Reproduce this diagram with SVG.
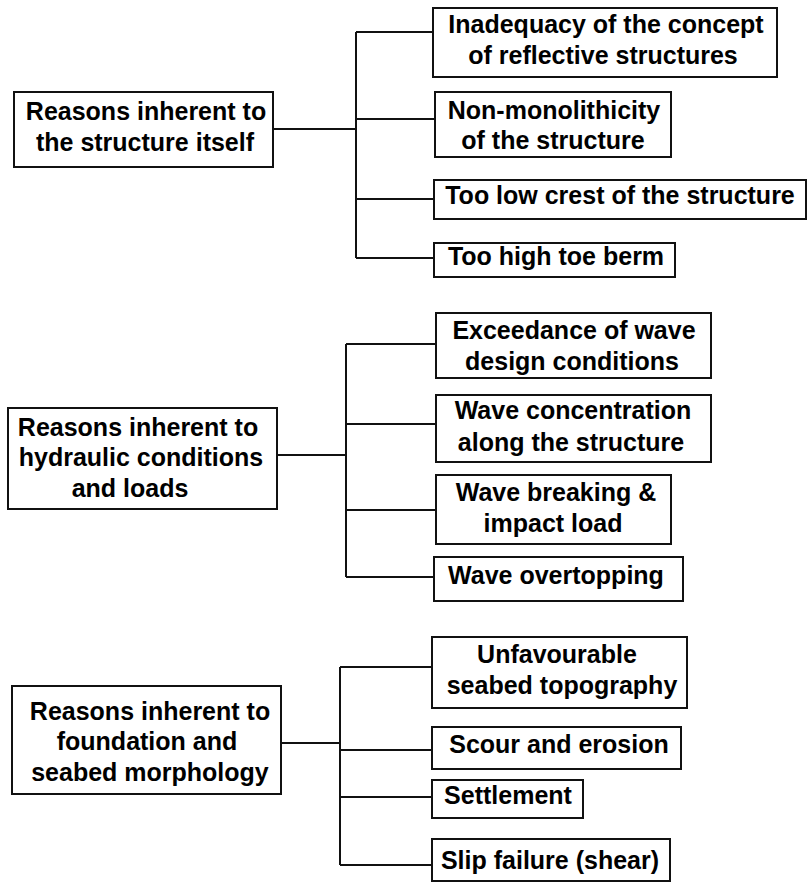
<svg xmlns="http://www.w3.org/2000/svg" width="808" height="882" viewBox="0 0 808 882">
<style>
.box{fill:#fff;stroke:#111;stroke-width:2}
.t{font-family:"Liberation Sans",Arial,sans-serif;font-weight:bold;font-size:25px;fill:#000;text-anchor:middle}
.c{fill:none;stroke:#111;stroke-width:2}
</style>
<rect width="808" height="882" fill="#fff"/>
<g id="connectors">
<path class="c" d="M273 129H356M356 32V258M356 32H433M356 119H435M356 199H434M356 258H434"/>
<path class="c" d="M277 455H346M346 344V577M346 344H436M346 424H436M346 510H436M346 577H434"/>
<path class="c" d="M281 743H340M340 667V865M340 667H432M340 750H432M340 797H432M340 865H432"/>
</g>
<g id="n1"><rect class="box" x="14" y="92" width="259" height="75"/>
<text class="t"><tspan x="146" y="120">Reasons inherent to</tspan><tspan x="145" y="151">the structure itself</tspan></text></g>
<g id="n1a"><rect class="box" x="433" y="8" width="344" height="69"/>
<text class="t"><tspan x="606" y="33">Inadequacy of the concept</tspan><tspan x="603" y="64">of reflective structures</tspan></text></g>
<g id="n1b"><rect class="box" x="435" y="92" width="236" height="65"/>
<text class="t"><tspan x="554" y="119">Non-monolithicity</tspan><tspan x="553" y="149">of the structure</tspan></text></g>
<g id="n1c"><rect class="box" x="434" y="180" width="372" height="39"/>
<text class="t" x="620" y="204">Too low crest of the structure</text></g>
<g id="n1d"><rect class="box" x="434" y="243" width="241" height="34"/>
<text class="t" x="556" y="265">Too high toe berm</text></g>
<g id="n2"><rect class="box" x="8" y="408" width="269" height="101"/>
<text class="t"><tspan x="138" y="436">Reasons inherent to</tspan><tspan x="141" y="466">hydraulic conditions</tspan><tspan x="130" y="497">and loads</tspan></text></g>
<g id="n2a"><rect class="box" x="436" y="313" width="275" height="65"/>
<text class="t"><tspan x="574" y="339">Exceedance of wave</tspan><tspan x="572" y="370">design conditions</tspan></text></g>
<g id="n2b"><rect class="box" x="436" y="395" width="275" height="67"/>
<text class="t"><tspan x="573" y="419">Wave concentration</tspan><tspan x="571" y="451">along the structure</tspan></text></g>
<g id="n2c"><rect class="box" x="436" y="475" width="235" height="69"/>
<text class="t"><tspan x="556" y="501">Wave breaking &amp;</tspan><tspan x="553" y="532">impact load</tspan></text></g>
<g id="n2d"><rect class="box" x="434" y="557" width="249" height="44"/>
<text class="t" x="556" y="584">Wave overtopping</text></g>
<g id="n3"><rect class="box" x="12" y="686" width="269" height="108"/>
<text class="t"><tspan x="150" y="720">Reasons inherent to</tspan><tspan x="147" y="750">foundation and</tspan><tspan x="150" y="781">seabed morphology</tspan></text></g>
<g id="n3a"><rect class="box" x="432" y="637" width="255" height="71"/>
<text class="t"><tspan x="557" y="663">Unfavourable</tspan><tspan x="562" y="694">seabed topography</tspan></text></g>
<g id="n3b"><rect class="box" x="432" y="727" width="249" height="42"/>
<text class="t" x="559" y="753">Scour and erosion</text></g>
<g id="n3c"><rect class="box" x="432" y="780" width="151" height="38"/>
<text class="t" x="508" y="804">Settlement</text></g>
<g id="n3d"><rect class="box" x="432" y="839" width="238" height="42"/>
<text class="t" x="550" y="869">Slip failure (shear)</text></g>
</svg>
